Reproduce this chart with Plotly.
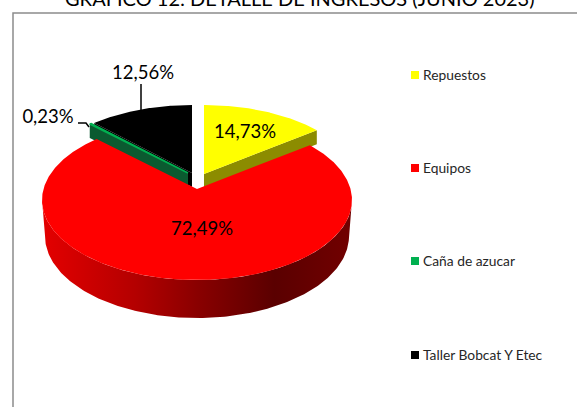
import numpy as np
import plotly.graph_objects as go

categories = ["Repuestos", "Equipos", "Caña de azucar", "Taller Bobcat Y Etec"]
shares = [14.73, 72.49, 0.23, 12.56]
top_colors = ["#FFFF00", "#FF0000", "#00B050", "#000000"]
wall_colors = ["#8C8C00", "#8C0000", "#0B5A30", "#000000"]
title_text = "GRÁFICO 12: DETALLE DE INGRESOS (JUNIO 2023)"

W, H = 577, 407
RX, RY = 155.0, 80.0
# Offset of each exploded slice: apex x, apex y, ellipse-centre y
explode = [(204, 174, 185), (197, 189, 200), (188, 173, 186), (192, 173, 185)]
WALL = 14


def rim_point(theta, ax, ay, cy):
    """Ray from the slice apex, in the tilted plane, to the ellipse rim."""
    dx, dy = RX * np.sin(theta), -RY * np.cos(theta)
    oy = ay - cy
    A = (dx / RX) ** 2 + (dy / RY) ** 2
    B = 2 * oy * dy / RY ** 2
    C = (oy / RY) ** 2 - 1
    s = (-B + np.sqrt(B * B - 4 * A * C)) / (2 * A)
    return ax + s * dx, ay + s * dy


def sector(a0, a1, ax, ay, cy):
    n = max(3, int((a1 - a0) / 0.01))
    pts = [rim_point(t, ax, ay, cy) for t in np.linspace(a0, a1, n)]
    return [ax] + [p[0] for p in pts] + [ax], [ay] + [p[1] for p in pts] + [ay]


def poly(fig, x, y, color, lw=0):
    fig.add_trace(go.Scatter(x=x, y=y, mode="lines", fill="toself", fillcolor=color,
                             line=dict(width=lw, color=color), hoverinfo="skip",
                             showlegend=False))


edges = np.cumsum([0] + shares) / sum(shares) * 2 * np.pi
fig = go.Figure()

# Back slices: radial walls then top faces
for i in (0, 3, 2):
    ax, ay, cy = explode[i]
    a0, a1 = edges[i], edges[i + 1]
    edge = a1 if i == 0 else a0
    rx, ry = rim_point(edge, ax, ay, cy)
    poly(fig, [ax, rx, rx, ax, ax], [ay, ry, ry + WALL, ay + WALL, ay], wall_colors[i])
    x, y = sector(a0, a1, ax, ay, cy)
    poly(fig, x, y, top_colors[i], lw=1.5 if i == 2 else 0)

# Red slice: curved outer wall with a horizontal shading
ax, ay, cy = explode[1]
t = np.linspace(np.pi / 2 * 0.999, 3 * np.pi / 2 * 1.001, 200)
tx = 197 + RX * np.sin(t)
ty = cy - RY * np.cos(t)
bx = 197 + 152 * np.sin(t)
by = 236 - 82 * np.cos(t)
fig.add_trace(go.Scatter(
    x=np.r_[tx, bx[::-1], tx[0]], y=np.r_[ty, by[::-1], ty[0]], mode="lines",
    fill="toself", line=dict(width=0), hoverinfo="skip", showlegend=False,
    fillgradient=dict(type="horizontal", colorscale=[
        [0, "#E40000"], [0.3, "#B40000"], [0.5, "#8A0000"],
        [0.75, "#5A0000"], [1, "#720000"]])))
x, y = sector(edges[1], edges[2], ax, ay, cy)
poly(fig, x, y, top_colors[1])

# Leader lines
for lx, ly in [([141, 141], [84, 110]), ([78, 86, 89], [123, 123, 127])]:
    fig.add_trace(go.Scatter(x=lx, y=ly, mode="lines", line=dict(color="#000000", width=1.5),
                             hoverinfo="skip", showlegend=False))

# Data labels
label_pos = [(245, 133), (202, 230), (48, 118), (143, 74)]
fig.add_trace(go.Scatter(
    x=[p[0] for p in label_pos], y=[p[1] for p in label_pos], mode="text",
    text=[f"{v:.2f}%".replace(".", ",") for v in shares], textposition="middle center",
    textfont=dict(family="Lato", size=18.5, color="#000000"), hoverinfo="skip", showlegend=False))

# Legend
marker_y = [75, 168, 261, 355]
text_y = [76.5, 169.5, 262.5, 356.5]
fig.add_trace(go.Scatter(
    x=[415] * 4, y=marker_y, mode="markers",
    marker=dict(symbol="square", size=8, color=top_colors, line=dict(width=0)),
    hoverinfo="skip", showlegend=False))
fig.add_trace(go.Scatter(
    x=[423] * 4, y=text_y, mode="text", text=categories, textposition="middle right",
    textfont=dict(family="Lato", size=13.8, color="#262626"), hoverinfo="skip", showlegend=False))

fig.update_layout(
    width=W, height=H, margin=dict(l=0, r=0, t=0, b=0), autosize=False,
    paper_bgcolor="#FFFFFF", plot_bgcolor="#FFFFFF",
    xaxis=dict(range=[0, W], visible=False, fixedrange=True),
    yaxis=dict(range=[H, 0], visible=False, fixedrange=True),
    shapes=[dict(type="rect", xref="x", yref="y", x0=13, y0=13, x1=W + 20, y1=H + 20,
                 line=dict(color="#8C8C8C", width=1.5), layer="below")],
    annotations=[dict(text=title_text, x=300 / W, y=1.005, xref="paper", yref="paper", showarrow=False,
                      font=dict(family="Lato", size=20, color="#000000"),
                      xanchor="center", yanchor="middle")],
)
fig.write_html("out.html", config={"displayModeBar": False},
               post_script="document.body.style.margin='0';document.documentElement.style.overflow='hidden';")
